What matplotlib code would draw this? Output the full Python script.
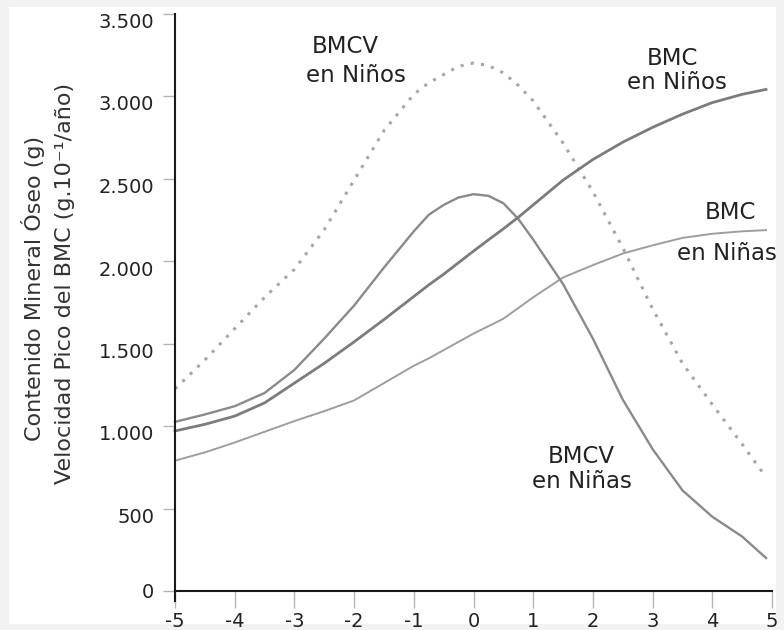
import matplotlib
matplotlib.use("Agg")
import matplotlib.pyplot as plt
from matplotlib.patches import Rectangle
from matplotlib.transforms import ScaledTranslation

# años desde el pico de velocidad de talla
x_vals = [-5, -4.5, -4, -3.5, -3, -2.5, -2, -1.5, -1, -0.75, -0.5, -0.25, 0, 0.25, 0.5, 0.75, 1,
          1.5, 2, 2.5, 3, 3.5, 4, 4.5, 4.9]

bmcv_ninos = [1225, 1400, 1590, 1780, 1950, 2190, 2490, 2790, 3010, 3080, 3130, 3180, 3200, 3185,
              3140, 3065, 2970, 2715, 2420, 2080, 1710, 1380, 1130, 890, 690]
bmc_ninos = [970, 1010, 1060, 1140, 1260, 1380, 1510, 1645, 1785, 1855, 1920, 1990, 2060, 2128,
             2195, 2265, 2340, 2490, 2615, 2720, 2810, 2890, 2960, 3010, 3040]
bmcv_ninas = [1025, 1070, 1120, 1200, 1340, 1530, 1730, 1960, 2180, 2280, 2340, 2385, 2405, 2395,
              2350, 2255, 2130, 1860, 1530, 1160, 860, 610, 450, 330, 200]
bmc_ninas = [790, 840, 900, 965, 1030, 1090, 1155, 1260, 1365, 1410, 1460, 1510, 1560, 1605,
             1650, 1715, 1780, 1900, 1975, 2045, 2095, 2140, 2165, 2180, 2187]

x_ticks = [-5, -4, -3, -2, -1, 0, 1, 2, 3, 4, 5]
y_ticks = [0, 500, 1000, 1500, 2000, 2500, 3000, 3500]
y_tick_labels = ['0', '500', '1.000', '1.500', '2.000', '2.500', '3.000', '3.500']

# etiquetas de las curvas: (texto, x, y)
curve_labels = [
    ('BMCV', -2.14, 3297), ('en Niños', -1.97, 3127),
    ('BMC', 3.34, 3230), ('en Niños', 3.41, 3079),
    ('BMC', 4.30, 2291), ('en Niñas', 4.25, 2048),
    ('BMCV', 1.80, 818), ('en Niñas', 1.82, 661),
]

fig = plt.figure(figsize=(7.84, 6.30), dpi=100, facecolor='#f2f2f2')
fig.patches.append(Rectangle((9 / 784, 1 - 624 / 630), (776 - 9) / 784, (624 - 7) / 630,
                             transform=fig.transFigure, facecolor='white', edgecolor='none',
                             zorder=-10))

ax = fig.add_axes([175 / 784, 39 / 630, 597 / 784, 577.5 / 630])
ax.set_facecolor('none')
ax.set_zorder(1)

ax.plot(x_vals, bmcv_ninos, color='#a6a6a6', lw=2.2, linestyle=(0, (1, 2.4)),
        dash_capstyle='butt', clip_on=False)
ax.plot(x_vals, bmc_ninas, color='#9e9e9e', lw=1.4, clip_on=False)
ax.plot(x_vals, bmcv_ninas, color='#8a8a8a', lw=1.7, clip_on=False)
ax.plot(x_vals, bmc_ninos, color='#7c7c7c', lw=2.0, clip_on=False)

ax.set_xlim(-5, 5)
ax.set_ylim(0, 3500)

for side in ['top', 'right']:
    ax.spines[side].set_visible(False)
for side in ['left', 'bottom']:
    ax.spines[side].set_color('#1a1a1a')
    ax.spines[side].set_linewidth(1.5)
ax.spines['left'].set_bounds(-60, 3500)

ax.set_xticks(x_ticks)
ax.set_xticklabels([str(t) for t in x_ticks])
ax.set_yticks(y_ticks)
ax.set_yticklabels(y_tick_labels)
ax.tick_params(axis='x', direction='out', length=12, width=1, color='#b5b5b5',
               pad=3, labelsize=14, labelcolor='#222222')
ax.tick_params(axis='y', direction='out', length=9, width=1, color='#b5b5b5',
               pad=6, labelsize=14, labelcolor='#222222')

# las etiquetas del eje y quedan un poco por debajo de su marca
for lab, val in zip(ax.get_yticklabels(), y_ticks):
    if val > 0:
        lab.set_transform(lab.get_transform() + ScaledTranslation(0, -0.07, fig.dpi_scale_trans))

for txt, lx, ly in curve_labels:
    ax.text(lx, ly, txt, ha='center', va='center', fontsize=16.5, color='#222222',
            clip_on=False)

fig.text(33 / 784, 1 - 288 / 630, 'Contenido Mineral Óseo (g)', rotation=90,
         ha='center', va='center', fontsize=16, color='#333333')
fig.text(65 / 784, 1 - 283 / 630, 'Velocidad Pico del BMC (g.10⁻¹/año)', rotation=90,
         ha='center', va='center', fontsize=16, color='#333333')

fig.savefig('out.png', dpi=100, facecolor=fig.get_facecolor())
